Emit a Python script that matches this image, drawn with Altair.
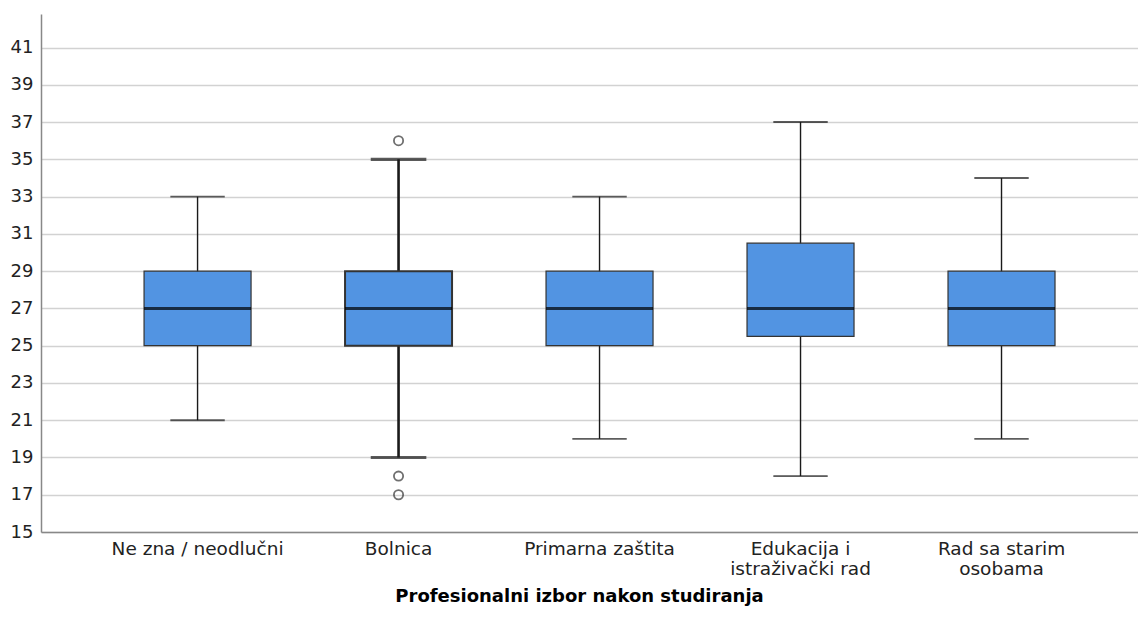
import altair as alt
import pandas as pd

categories = ["Ne zna / neodlučni", "Bolnica", "Primarna zaštita",
              "Edukacija i\nistraživački rad", "Rad sa starim\nosobama"]
whisker_low = [21, 19, 20, 18, 20]
q1 = [25, 25, 25, 25.5, 25]
median = [27, 27, 27, 27, 27]
q3 = [29, 29, 29, 30.5, 29]
whisker_high = [33, 35, 33, 37, 34]
outlier_cat = ["Bolnica", "Bolnica", "Bolnica"]
outlier_val = [36, 18, 17]
y_ticks = list(range(15, 42, 2))

box_df = pd.DataFrame({"cat": categories, "low": whisker_low, "q1": q1,
                       "med": median, "q3": q3, "high": whisker_high})
out_df = pd.DataFrame({"cat": outlier_cat, "val": outlier_val})

FONT = "DejaVu Sans"
xscale = alt.Scale(paddingInner=0, paddingOuter=0.229, align=0.609)
x_axis = alt.Axis(title="Profesionalni izbor nakon studiranja", labelAngle=0,
                  labelExpr="split(datum.label, '\\n')", labelLineHeight=20,
                  labelFont=FONT, labelFontSize=18.5, labelColor="#222222",
                  labelPadding=7, ticks=False, domainColor="#888888", domainWidth=1.5,
                  titleFont=FONT, titleFontSize=18, titleFontWeight="bold",
                  titleColor="#000000", titlePadding=10, titleX=538, titleAlign="center",
                  grid=False, labelOverlap=False)
x = alt.X("cat:N", sort=categories, scale=xscale, axis=x_axis)
yscale = alt.Scale(domain=[15, 42.8], nice=False, zero=False)
y_axis = alt.Axis(values=y_ticks, title=None, ticks=False, labelPadding=8,
                  labelFont=FONT, labelFontSize=18, labelColor="#222222",
                  domainColor="#888888", domainWidth=1.5, labelOverlap=False,
                  grid=True, gridColor="#d2d2d2", gridWidth=1.5)

is_sel = "datum.cat == 'Bolnica'"
sw = alt.condition(is_sel, alt.value(2.6), alt.value(1.4))

base = alt.Chart(box_df)
whisk = base.mark_rule(color="#1a1a1a").encode(
    x=x, y=alt.Y("low:Q", scale=yscale, axis=y_axis), y2="high:Q", strokeWidth=sw)
caps_lo = base.mark_tick(color="#1a1a1a", size=53, thickness=0.5).encode(
    x=x, y=alt.Y("low:Q", scale=yscale, axis=y_axis), stroke=alt.value("#1a1a1a"), strokeWidth=sw)
caps_hi = base.mark_tick(color="#1a1a1a", size=53, thickness=0.5).encode(
    x=x, y=alt.Y("high:Q", scale=yscale, axis=y_axis), stroke=alt.value("#1a1a1a"), strokeWidth=sw)
box = base.mark_bar(size=107, color="#5294e2", stroke="#333333").encode(
    x=x, y=alt.Y("q1:Q", scale=yscale, axis=y_axis), y2="q3:Q",
    strokeWidth=alt.condition(is_sel, alt.value(2.0), alt.value(1.2)))
med = base.mark_tick(color="#000000", size=107, thickness=3).encode(
    x=x, y=alt.Y("med:Q", scale=yscale, axis=y_axis))
outl = alt.Chart(out_df).mark_point(shape="circle", filled=False, size=85,
                                    color="#333333", strokeWidth=1.8).encode(
    x=x, y=alt.Y("val:Q", scale=yscale, axis=y_axis))

chart = alt.layer(whisk, caps_lo, caps_hi, box, med, outl).properties(
    width=1097, height=518,
    padding={"left": 33, "top": 6, "right": 0, "bottom": 78},
    autosize=alt.AutoSizeParams(type="none"),
).configure(background="#ffffff").configure_view(stroke=None)

chart.save("out.html", embed_options={"renderer": "svg", "actions": False})
